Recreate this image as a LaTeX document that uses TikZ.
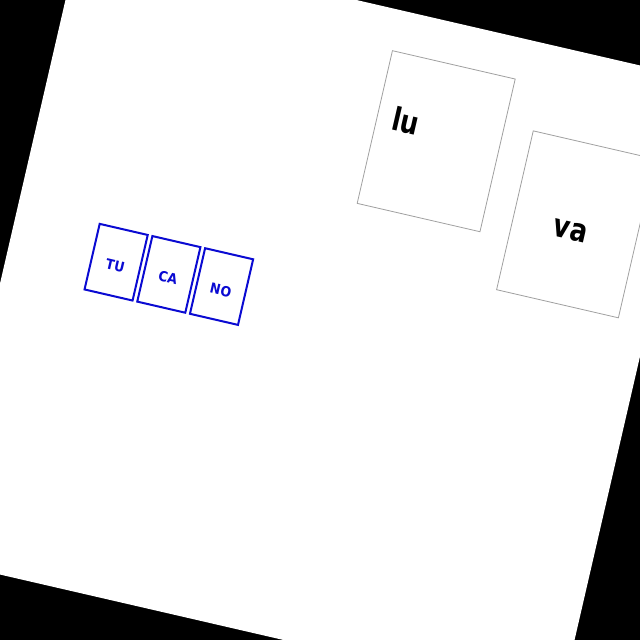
\documentclass[tikz,border=0pt]{standalone}
\usepackage{fontspec}
\setmainfont{DejaVu Sans}
\usepackage{tikz}
\usetikzlibrary{positioning}
\definecolor{tileblue}{RGB}{10,10,210}
\definecolor{cardgray}{RGB}{160,160,160}
\tikzset{
	tile/.style={draw=tileblue, line width=2pt, minimum width=49.3pt, minimum height=67.3pt, inner sep=0pt, text height=17.5pt, text depth=0pt, text=tileblue, font=\bfseries\fontsize{14}{14}\selectfont},
	card/.style={draw=cardgray, line width=0.8pt, inner sep=0pt},
	bigword/.style={inner sep=0pt, font=\bfseries\fontsize{32}{32}\selectfont}
}
\newcommand{\narrow}[2][0.8]{\scalebox{#1}[1]{#2}}

\begin{document}
\begin{tikzpicture}[x=1pt, y=1pt]
		%%%%% START %%%%%
		\useasboundingbox (0, 0) rectangle (640, 640);
		\clip (0, 0) rectangle (640, 640);
		\fill[black] (0, 0) rectangle (640, 640);
		
		\begin{scope}[rotate around={-13:(320, 320)}, transform shape]
		\fill[white] (0, 0) rectangle (640, 640);
		
		\node[tile] (tu) at (108.35, 330.45) {\narrow[0.9]{TU}};
		\node[tile, right=2.8pt of tu] (ca) {\narrow[0.9]{CA}};
		\node[tile, right=2.8pt of ca] (no) {\narrow[0.9]{NO}};
		
		\node[card, minimum width=126pt, minimum height=156.7pt] (lu) at (393, 520.35) {};
		\node[bigword, anchor=base west] (luword) at (345.5, 521.3) {\narrow{lu}};
		
		\node[card, minimum width=125pt, minimum height=163pt] (va) at (547.75, 470.75) {};
		\node[bigword, anchor=base] (vaword) at (544, 454) {\narrow{va}};
		\end{scope}
		
		%%%%% END %%%%%
\end{tikzpicture}
\end{document}
